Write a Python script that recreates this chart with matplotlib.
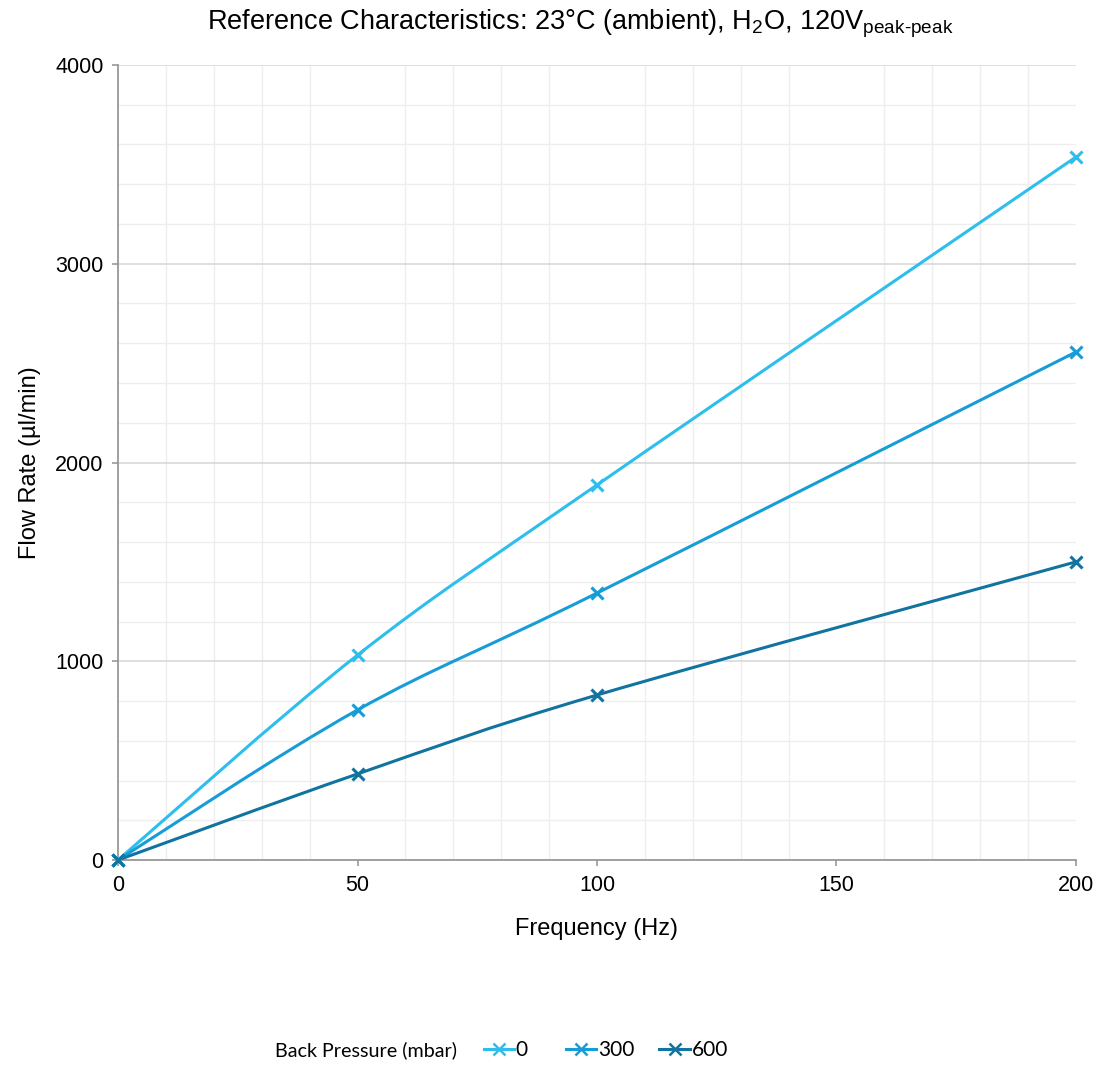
import numpy as np
import matplotlib.pyplot as plt
from matplotlib.path import Path
from matplotlib.patches import PathPatch
from matplotlib.lines import Line2D
from matplotlib.ticker import MultipleLocator

plt.rcParams['font.family'] = ['Liberation Sans', 'DejaVu Sans']
plt.rcParams['mathtext.fontset'] = 'custom'
plt.rcParams['mathtext.rm'] = 'Liberation Sans'
plt.rcParams['mathtext.it'] = 'Liberation Sans'

# data
freq = [0, 50, 100, 200]
flow_0 = [0, 1031, 1887, 3537]
flow_300 = [0, 755, 1343, 2556]
flow_600 = [0, 433, 830, 1500]
pressures = ['0', '300', '600']
colors = ['#2EBEEE', '#169DD8', '#11739F']


def smooth_path(x, y):
    """Bezier path through the points, like Excel's smoothed line."""
    pts = np.column_stack([x, y]).astype(float)
    n = len(pts)
    verts = [pts[0]]
    codes = [Path.MOVETO]
    for i in range(n - 1):
        p0 = pts[max(i - 1, 0)]
        p1 = pts[i]
        p2 = pts[i + 1]
        p3 = pts[min(i + 2, n - 1)]
        c1 = p1 + (p2 - p0) / 6.0
        c2 = p2 - (p3 - p1) / 6.0
        verts += [c1, c2, p2]
        codes += [Path.CURVE4] * 3
    return Path(verts, codes)


fig = plt.figure(figsize=(10.99, 10.69), dpi=100)
ax = fig.add_axes([0.1074, 0.1955, 0.8716, 0.7437])

handles = []
for vals, col, lab in zip([flow_0, flow_300, flow_600], colors, pressures):
    ax.add_patch(PathPatch(smooth_path(freq, vals), facecolor='none',
                           edgecolor=col, lw=2.2, zorder=3))
    ax.plot(freq, vals, ls='none', marker='x', ms=8, mew=2.2, color=col,
            zorder=4, clip_on=False)
    handles.append(Line2D([], [], color=col, lw=2.2, marker='x', ms=8, mew=1.8))

ax.set_xlim(0, 200)
ax.set_ylim(0, 4000)
ax.xaxis.set_major_locator(MultipleLocator(50))
ax.xaxis.set_minor_locator(MultipleLocator(10))
ax.yaxis.set_major_locator(MultipleLocator(1000))
ax.yaxis.set_minor_locator(MultipleLocator(200))

ax.grid(axis='y', which='major', color='#d9d9d9', lw=1.2)
ax.grid(which='minor', color='#eeeeee', lw=1.0)
ax.set_axisbelow(True)
for s in ['top', 'right']:
    ax.spines[s].set_visible(False)
for s in ['left', 'bottom']:
    ax.spines[s].set_color('#999999')
    ax.spines[s].set_linewidth(1.3)

ax.tick_params(which='major', length=4.5, width=1.2, color='#999999',
               labelsize=15.5, pad=6)
ax.tick_params(which='minor', length=0)

ax.set_xlabel('Frequency (Hz)', fontsize=17, labelpad=16)
ax.set_ylabel('Flow Rate (\u00b5l/min)', fontsize=17, labelpad=10)

fig.text(0.528, 0.978,
         r'Reference Characteristics: 23°C (ambient), H$_2$O, 120V$_{\mathrm{peak\text{-}peak}}$',
         ha='center', va='center', fontsize=19.5)

# legend: title on the left, one entry per pressure placed along the row
lfont = ['Lato', 'DejaVu Sans']
leg_y = 0.0178
fig.text(0.250, leg_y, 'Back Pressure (mbar)', ha='left', va='center',
         fontsize=14.2, family=lfont)
for h, lab, x0 in zip(handles, pressures, [0.440, 0.515, 0.600]):
    fig.legend([h], [lab], loc='center left', bbox_to_anchor=(x0, leg_y),
               frameon=False, handlelength=1.45, handletextpad=0.1,
               borderaxespad=0, borderpad=0,
               prop={'family': lfont, 'size': 15})

fig.savefig('out.png', dpi=100)
